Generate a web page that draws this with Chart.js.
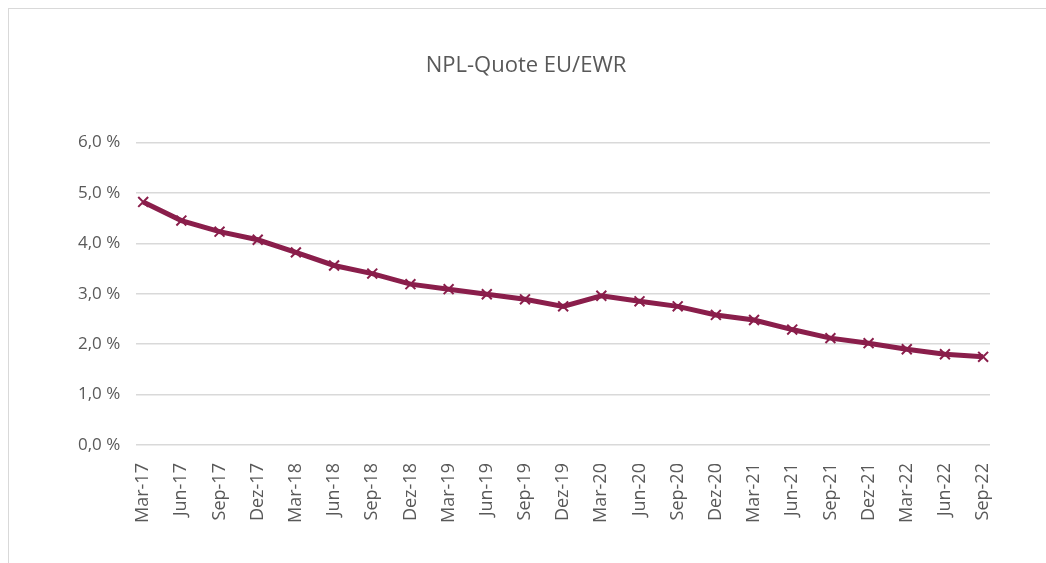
<!DOCTYPE html>
<html>
<head>
<meta charset="utf-8">
<script src="https://cdn.jsdelivr.net/npm/chart.js@4"></script>
<style>
  body { margin: 0; background: #fff; }
  #wrap { position: relative; width: 1046px; height: 563px; }
  #frame { position: absolute; left: 8px; top: 8px; width: 1040px; height: 556px; border: 1px solid #d9d9d9; box-sizing: border-box; }
  canvas { position: absolute; left: 0; top: 0; }
</style>
</head>
<body>
<div id="wrap">
  <div id="frame"></div>
  <canvas id="nplChart" width="1046" height="563"></canvas>
</div>
<script>
const quarters = [
  "Mar-17", "Jun-17", "Sep-17", "Dez-17",
  "Mar-18", "Jun-18", "Sep-18", "Dez-18",
  "Mar-19", "Jun-19", "Sep-19", "Dez-19",
  "Mar-20", "Jun-20", "Sep-20", "Dez-20",
  "Mar-21", "Jun-21", "Sep-21", "Dez-21",
  "Mar-22", "Jun-22", "Sep-22"
];

// NPL ratio in percent
const nplRatio = [
  4.82, 4.45, 4.23, 4.07,
  3.82, 3.56, 3.40, 3.19,
  3.09, 2.99, 2.89, 2.75,
  2.96, 2.85, 2.75, 2.58,
  2.48, 2.29, 2.12, 2.02,
  1.90, 1.80, 1.75
];

const yTicks = [0, 1, 2, 3, 4, 5, 6];

const textColor = "#595959";
const gridColor = "#d9d9d9";
const lineColor = "#8a1e4b";

function formatPercent(v) {
  return v.toFixed(1).replace(".", ",") + " %";
}

const points = nplRatio.map((v, i) => ({ x: i, y: v }));

const ctx = document.getElementById("nplChart").getContext("2d");

new Chart(ctx, {
  type: "line",
  data: {
    datasets: [
      {
        label: "NPL-Quote",
        data: points,
        borderColor: lineColor,
        backgroundColor: lineColor,
        borderWidth: 5,
        pointStyle: "crossRot",
        pointRadius: 7,
        pointBorderWidth: 2,
        pointBorderColor: lineColor,
        tension: 0,
      },
    ],
  },
  options: {
    responsive: false,
    animation: false,
    layout: {
      padding: { left: 62, right: 56, top: 0, bottom: 30 },
    },
    plugins: {
      legend: { display: false },
      tooltip: { enabled: false },
      title: {
        display: true,
        text: "NPL-Quote EU/EWR",
        color: textColor,
        font: { family: "'Open Sans', sans-serif", size: 22, weight: "normal" },
        padding: { top: 53, bottom: 63 },
      },
    },
    scales: {
      x: {
        type: "linear",
        min: -0.18,
        max: quarters.length - 1 + 0.18,
        afterBuildTicks: (axis) => {
          axis.ticks = quarters.map((q, i) => ({ value: i }));
        },
        ticks: {
          color: textColor,
          font: { family: "'Open Sans', sans-serif", size: 18 },
          maxRotation: 90,
          minRotation: 90,
          autoSkip: false,
          padding: 10,
          callback: (value) => quarters[value],
        },
        grid: { display: false },
        border: { display: false },
      },
      y: {
        min: 0,
        max: 6,
        afterBuildTicks: (axis) => {
          axis.ticks = yTicks.map((v) => ({ value: v }));
        },
        ticks: {
          color: textColor,
          font: { family: "'Open Sans', sans-serif", size: 17 },
          padding: 16,
          callback: (value) => formatPercent(value),
        },
        grid: { color: gridColor, lineWidth: 1.5, drawTicks: false },
        border: { display: false },
      },
    },
  },
});
</script>
</body>
</html>
